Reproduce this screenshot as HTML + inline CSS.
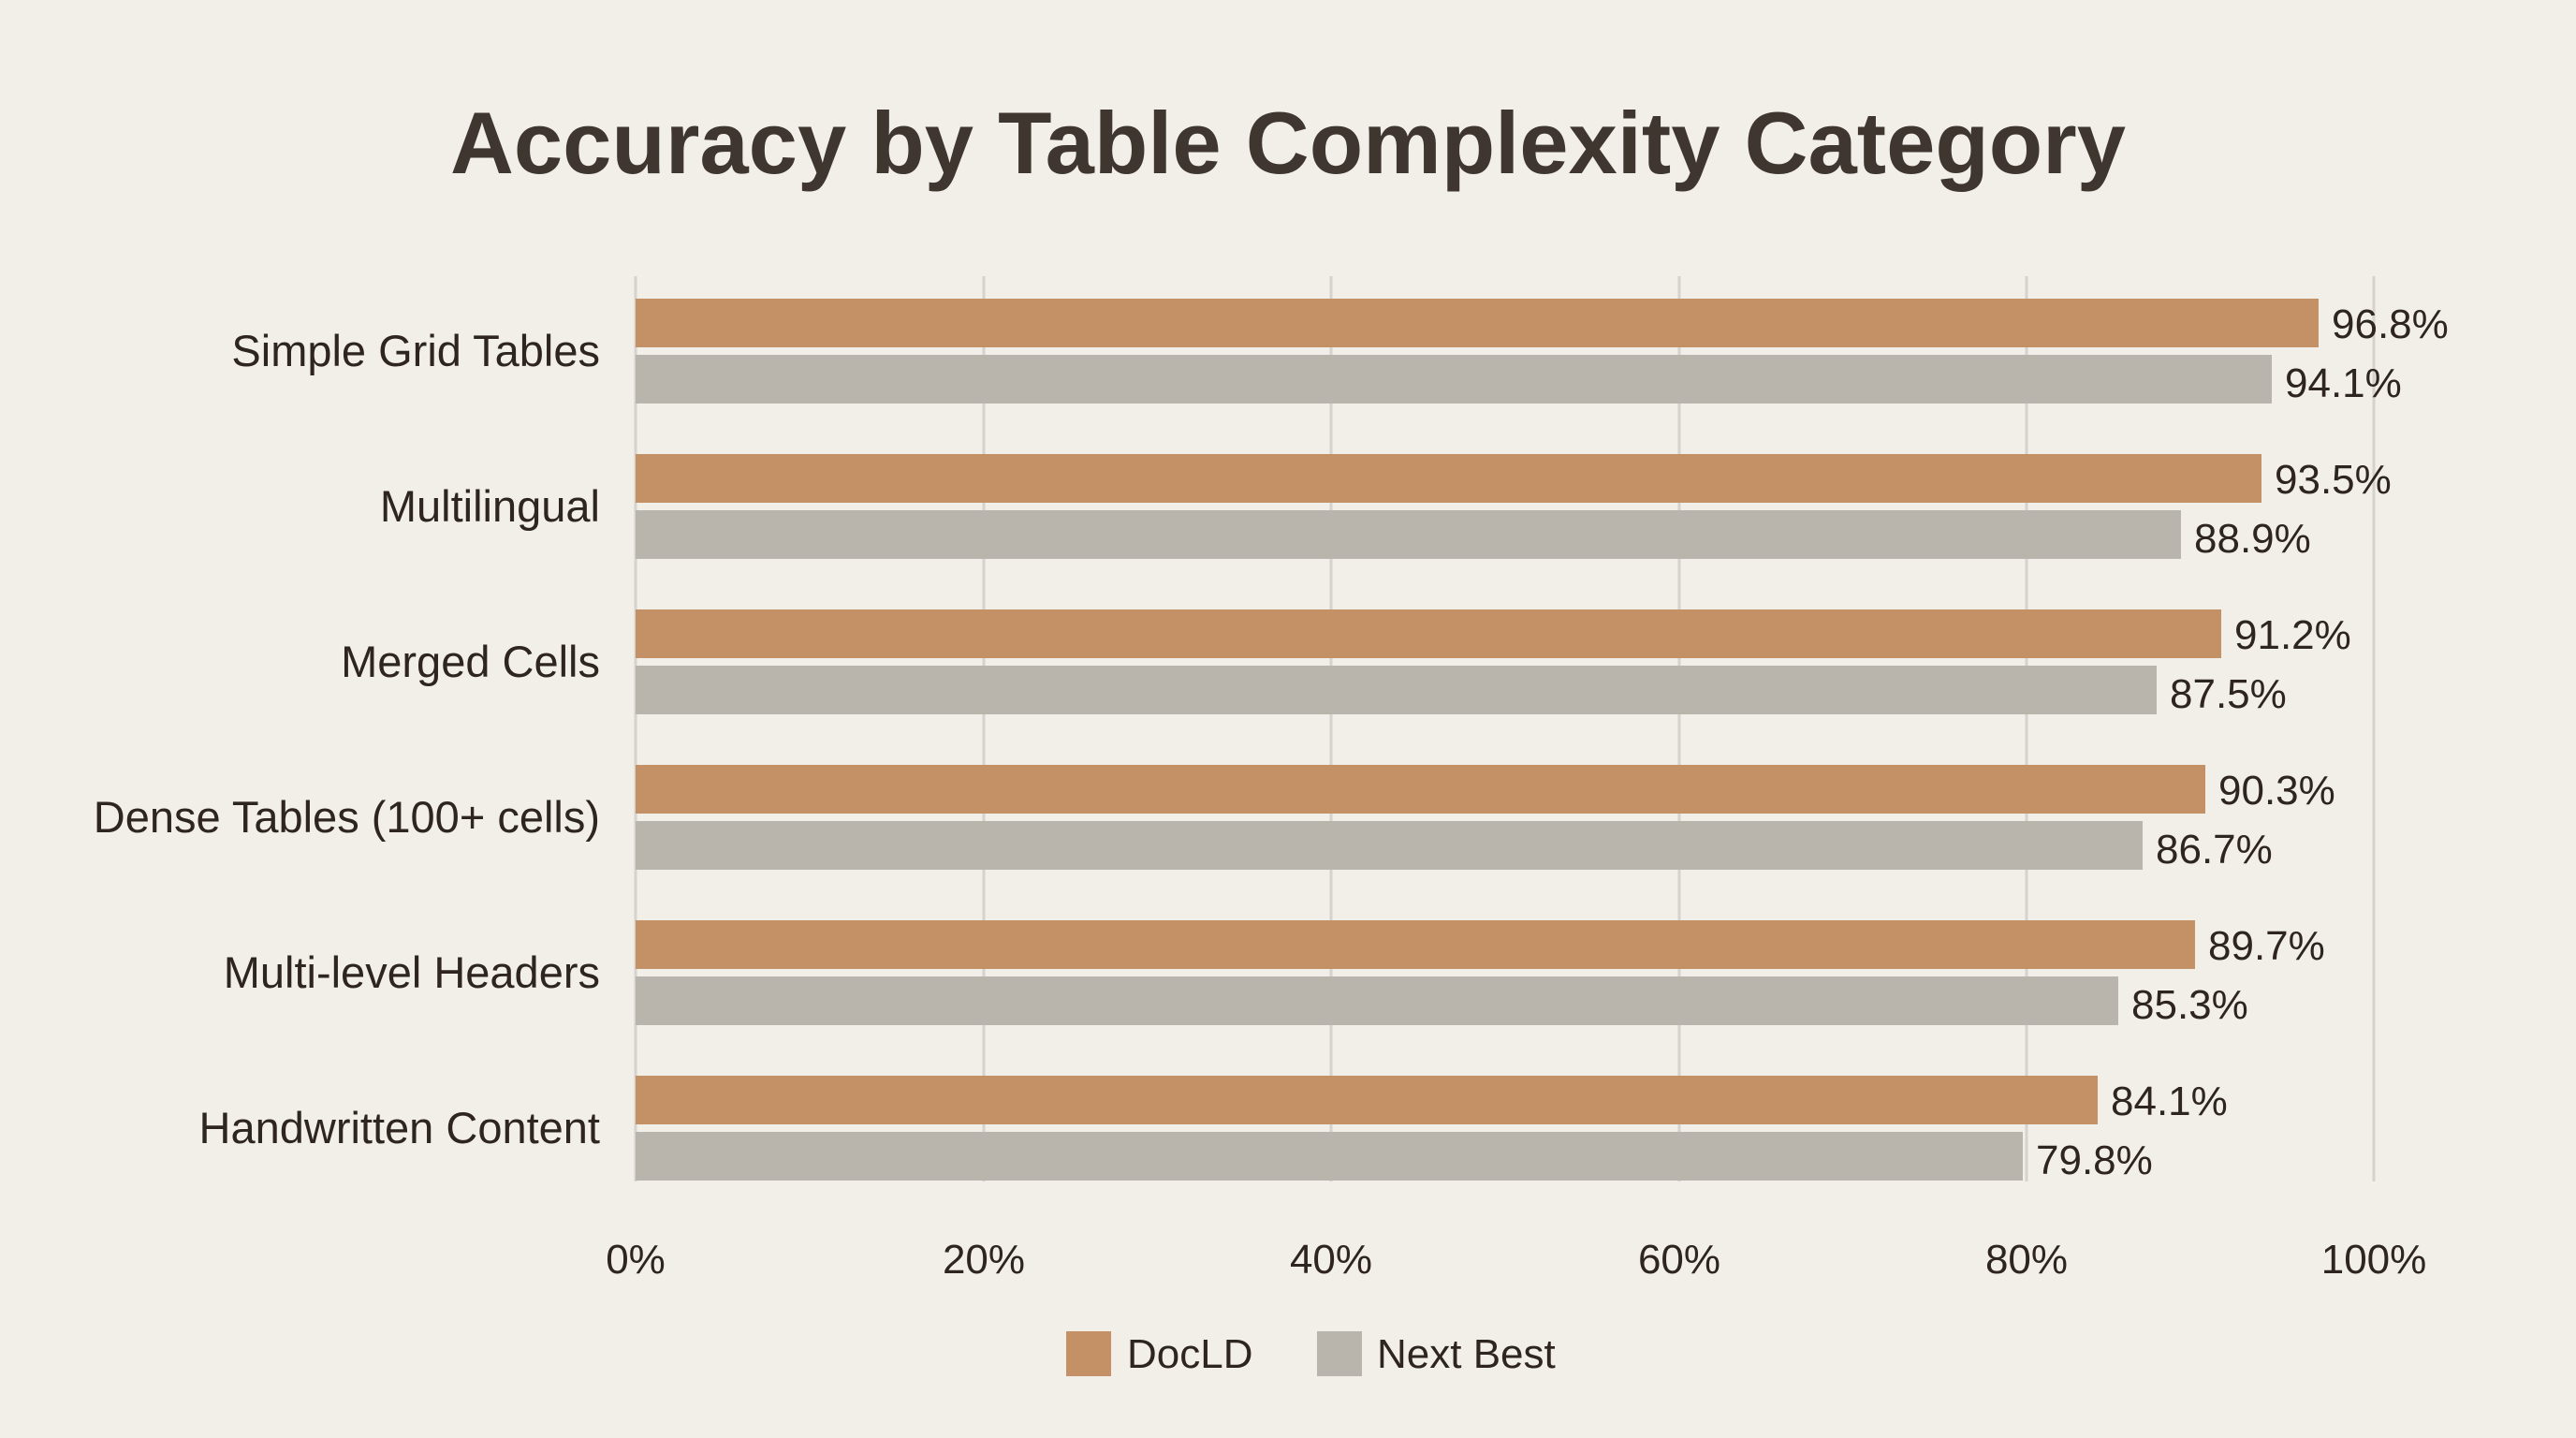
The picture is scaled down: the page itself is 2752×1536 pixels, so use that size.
<!DOCTYPE html>
<html><head><style>
html,body{margin:0;padding:0;background:#f2efe9;}
svg{display:block;}
text{font-family:"Liberation Sans",sans-serif;fill:#2e2420;}
</style></head><body>
<svg width="2752" height="1536" xmlns="http://www.w3.org/2000/svg">
<rect width="2752" height="1536" fill="#f2efe9"/>
<text x="1376" y="185" font-size="94" font-weight="bold" text-anchor="middle" style="fill:#3f3630">Accuracy by Table Complexity Category</text>
<g stroke="#d6d3ce" stroke-width="3">
<line x1="679" y1="295" x2="679" y2="1262"/>
<line x1="1051" y1="295" x2="1051" y2="1262"/>
<line x1="1422" y1="295" x2="1422" y2="1262"/>
<line x1="1794" y1="295" x2="1794" y2="1262"/>
<line x1="2165" y1="295" x2="2165" y2="1262"/>
<line x1="2536" y1="295" x2="2536" y2="1262"/>
</g>
<g font-size="44">
<rect x="679" y="319" width="1798" height="52" fill="#c49066"/>
<rect x="679" y="379" width="1748" height="52" fill="#b9b4ac"/>
<text x="2491" y="361">96.8%</text><text x="2441" y="424">94.1%</text>

<rect x="679" y="485" width="1737" height="52" fill="#c49066"/>
<rect x="679" y="545" width="1651" height="52" fill="#b9b4ac"/>
<text x="2430" y="527">93.5%</text><text x="2344" y="590">88.9%</text>

<rect x="679" y="651" width="1694" height="52" fill="#c49066"/>
<rect x="679" y="711" width="1625" height="52" fill="#b9b4ac"/>
<text x="2387" y="693">91.2%</text><text x="2318" y="756">87.5%</text>

<rect x="679" y="817" width="1677" height="52" fill="#c49066"/>
<rect x="679" y="877" width="1610" height="52" fill="#b9b4ac"/>
<text x="2370" y="859">90.3%</text><text x="2303" y="922">86.7%</text>

<rect x="679" y="983" width="1666" height="52" fill="#c49066"/>
<rect x="679" y="1043" width="1584" height="52" fill="#b9b4ac"/>
<text x="2359" y="1025">89.7%</text><text x="2277" y="1088">85.3%</text>

<rect x="679" y="1149" width="1562" height="52" fill="#c49066"/>
<rect x="679" y="1209" width="1482" height="52" fill="#b9b4ac"/>
<text x="2255" y="1191">84.1%</text><text x="2175" y="1254">79.8%</text>

<g font-size="47" text-anchor="end">
<text x="641" y="391">Simple Grid Tables</text>
<text x="641" y="557">Multilingual</text>
<text x="641" y="723">Merged Cells</text>
<text x="641" y="889">Dense Tables (100+ cells)</text>
<text x="641" y="1055">Multi-level Headers</text>
<text x="641" y="1221">Handwritten Content</text>
</g>

<g text-anchor="middle">
<text x="679" y="1360">0%</text>
<text x="1051" y="1360">20%</text>
<text x="1422" y="1360">40%</text>
<text x="1794" y="1360">60%</text>
<text x="2165" y="1360">80%</text>
<text x="2536" y="1360">100%</text>
</g>
<rect x="1139" y="1422" width="48" height="48" fill="#c49066"/>
<text x="1204" y="1461">DocLD</text>
<rect x="1407" y="1422" width="48" height="48" fill="#b9b4ac"/>
<text x="1471" y="1461">Next Best</text>
</g>
</svg>
</body></html>
